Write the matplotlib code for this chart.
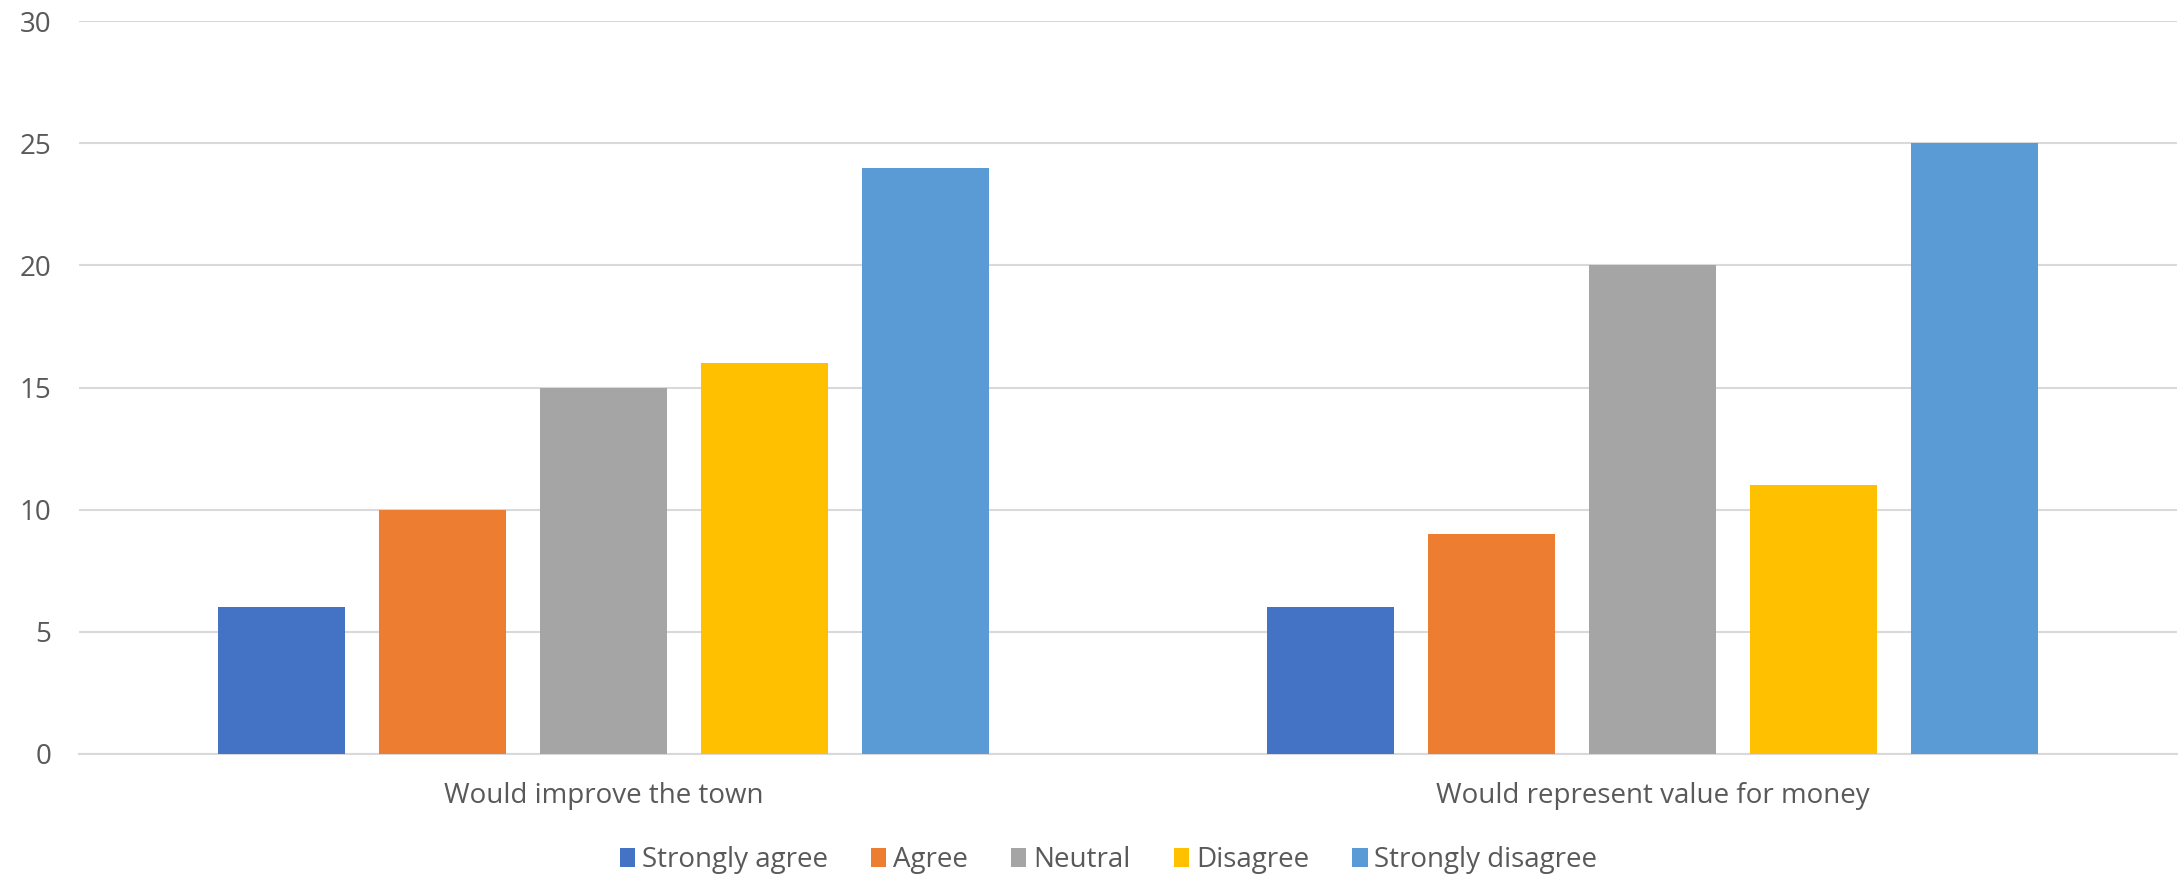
import matplotlib
matplotlib.use("Agg")
import matplotlib.pyplot as plt
from matplotlib import font_manager
import numpy as np

categories = ["Would improve the town", "Would represent value for money"]
series_names = ["Strongly agree", "Agree", "Neutral", "Disagree", "Strongly disagree"]
values = {
    "Strongly agree": [6, 6],
    "Agree": [10, 9],
    "Neutral": [15, 20],
    "Disagree": [16, 11],
    "Strongly disagree": [24, 25],
}
colors = ["#4472C4", "#ED7D31", "#A5A5A5", "#FFC000", "#5B9BD5"]
yticks = [0, 5, 10, 15, 20, 25, 30]

avail = {f.name for f in font_manager.fontManager.ttflist}
fam = [f for f in ["Liberation Sans Narrow", "Open Sans", "DejaVu Sans"] if f in avail]
plt.rcParams['font.family'] = fam

fig = plt.figure(figsize=(21.78, 8.75), dpi=100)
ax = fig.add_axes([79/2178, 1-754/875, (2177-79)/2178, (754-21)/875])

x = np.arange(len(categories))
step = 0.1535
width = 0.1205
for j, name in enumerate(series_names):
    ax.bar(x + (j-2)*step, values[name], width=width, color=colors[j], label=name, zorder=3)

ax.set_xlim(-0.5, 1.5)
ax.set_ylim(0, 30)
ax.set_yticks(yticks)
ax.set_xticks(x)
ax.set_xticklabels(categories)
ax.yaxis.grid(True, color="#D9D9D9", linewidth=1.5, zorder=0)
for s in ["top", "right", "left"]:
    ax.spines[s].set_visible(False)
ax.spines["bottom"].set_color("#D9D9D9")
ax.spines["bottom"].set_linewidth(1.5)
ax.tick_params(axis="both", length=0, colors="#595959", labelsize=20)
ax.tick_params(axis="y", pad=20)
ax.tick_params(axis="x", pad=20)
for lbl in ax.get_yticklabels():
    lbl.set_fontfamily(["Open Sans", "DejaVu Sans"])
    lbl.set_fontsize(20)

h, l = ax.get_legend_handles_labels()
leg = fig.legend(h, l, loc="center", bbox_to_anchor=(0.509, 15/875), ncol=5, frameon=False,
                 fontsize=20, handlelength=0.55, handleheight=0.7, handletextpad=0.25,
                 columnspacing=1.55, labelcolor="#595959", borderpad=0)
fig.savefig("out.png", dpi=100)
